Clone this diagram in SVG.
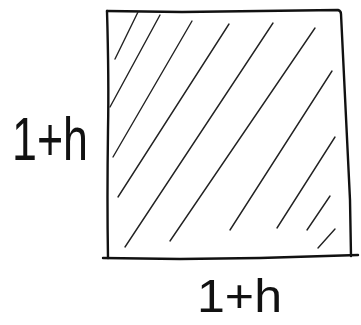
<svg xmlns="http://www.w3.org/2000/svg" width="361" height="325" viewBox="0 0 361 325">
<style>
.edge{fill:none;stroke:#111;stroke-width:2.4;stroke-linecap:round;stroke-linejoin:round}
.hatch{fill:none;stroke:#222;stroke-width:1.4;stroke-linecap:round}
.lbl{font-family:"Liberation Sans","DejaVu Sans",sans-serif;fill:#111}
</style>
<rect width="361" height="325" fill="#fff"/>
<g id="square">
<path class="edge" d="M107,11 L182,12 L260,11 L338,10 Q341,11 341,14 Q346,120 350,200 L351,256"/>
<path class="edge" d="M107,11 Q109,80 108,130 Q107,200 108,258"/>
<path class="edge" d="M103,258 L180,259 L260,258 L358,255"/>
</g>
<g id="hatching">
<path class="hatch" d="M138,12 L115,59"/>
<path class="hatch" d="M160,15 L110,107"/>
<path class="hatch" d="M192,21 L113,157"/>
<path class="hatch" d="M229,24 L118,197"/>
<path class="hatch" d="M273,23 L125,247"/>
<path class="hatch" d="M315,28 L170,241"/>
<path class="hatch" d="M332,71 L230,230"/>
<path class="hatch" d="M335,137 L277,228"/>
<path class="hatch" d="M330,196 L307,230"/>
<path class="hatch" d="M335,229 L318,248"/>
</g>
<g id="labels">
<text class="lbl" x="12" y="160" font-size="62" textLength="76" lengthAdjust="spacingAndGlyphs">1+h</text>
<text class="lbl" x="197" y="312" font-size="46" textLength="85" lengthAdjust="spacingAndGlyphs">1+h</text>
</g>
</svg>
